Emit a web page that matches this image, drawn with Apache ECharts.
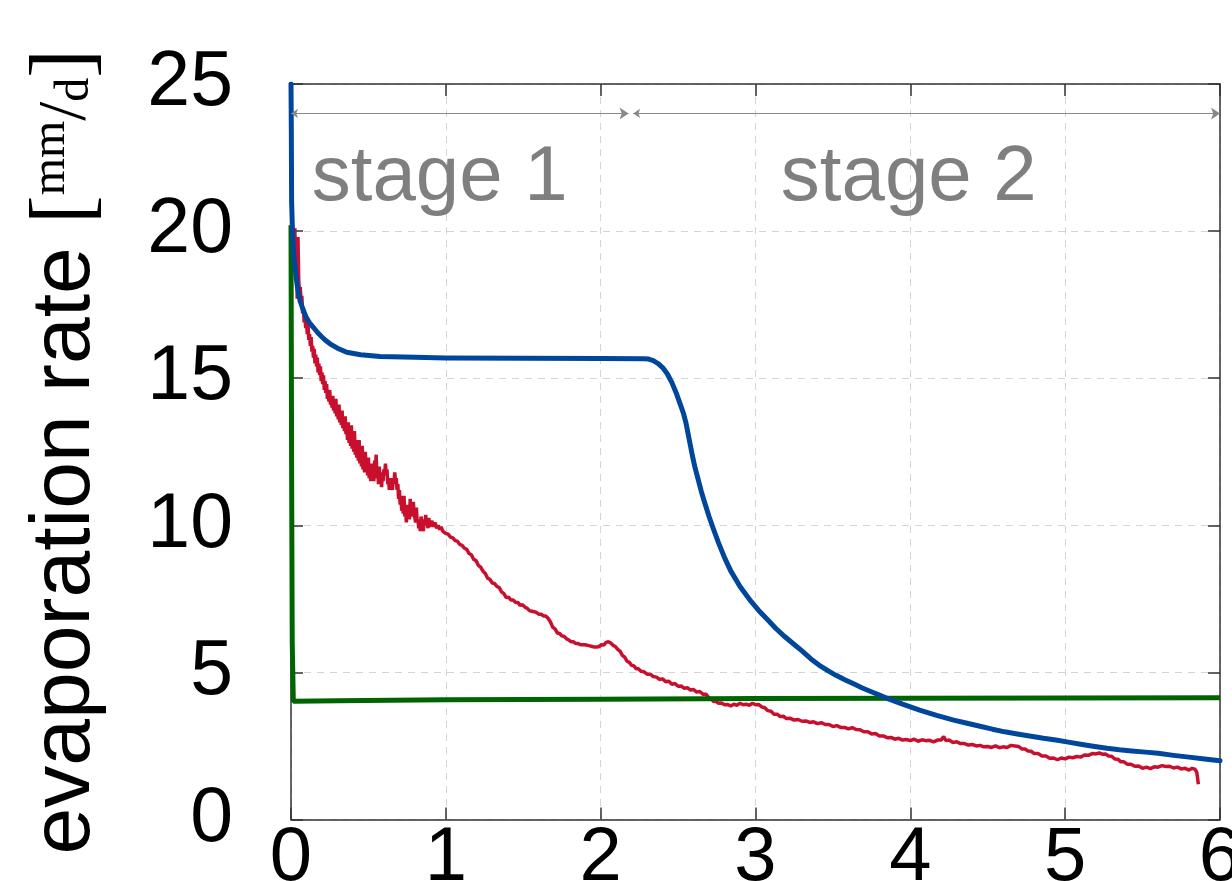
<!DOCTYPE html>
<html>
<head>
<meta charset="utf-8">
<script src="https://cdn.jsdelivr.net/npm/echarts@6/dist/echarts.min.js"></script>
<style>html,body{margin:0;padding:0;background:#fff;}#c{width:1232px;height:881px;}</style>
</head>
<body>
<div id="c"></div>
<script>
// ---- data ----
var xTicks = [0, 1, 2, 3, 4, 5, 6];
var yTicks = [0, 5, 10, 15, 20, 25];

var blueModel = [[0,25],[0.002,23.5],[0.004,21.0],[0.01,19.9],[0.018,19.2],[0.026,18.77],[0.04,18.15],[0.058,17.64],[0.08,17.3],[0.1,17.05],[0.12,16.88],[0.144,16.73],[0.17,16.56],[0.2,16.4],[0.225,16.28],[0.252,16.17],[0.3,16.02],[0.36,15.88],[0.45,15.8],[0.575,15.74],[0.8,15.71],[1.0,15.69],[1.5,15.68],[2.0,15.67],[2.28,15.66],[2.31,15.65],[2.34,15.6],[2.37,15.5],[2.40,15.36],[2.43,15.15],[2.46,14.85],[2.49,14.47],[2.515,14.1],[2.535,13.8],[2.55,13.5],[2.565,13.1],[2.58,12.7],[2.595,12.3],[2.61,11.95],[2.63,11.55],[2.65,11.15],[2.67,10.8],[2.70,10.3],[2.73,9.85],[2.76,9.42],[2.80,8.9],[2.84,8.45],[2.9,7.92],[2.97,7.42],[3.03,7.05],[3.08,6.78],[3.13,6.5],[3.19,6.21],[3.25,5.95],[3.3,5.73],[3.36,5.45],[3.41,5.25],[3.47,5.05],[3.52,4.9],[3.58,4.74],[3.63,4.62],[3.69,4.47],[3.74,4.36],[3.8,4.23],[3.85,4.12],[3.95,3.92],[4.06,3.72],[4.17,3.54],[4.28,3.38],[4.36,3.28],[4.45,3.17],[4.53,3.07],[4.61,2.98],[4.7,2.9],[4.78,2.83],[4.86,2.76],[4.94,2.70],[5.02,2.63],[5.1,2.56],[5.18,2.49],[5.27,2.42],[5.35,2.37],[5.43,2.33],[5.52,2.29],[5.6,2.25],[5.7,2.18],[5.8,2.12],[5.9,2.06],[6.0,2.0]];

var greenModel = [[0,20.2],[0.004,12.0],[0.008,6.0],[0.015,4.02],[0.3,4.04],[1,4.07],[2,4.09],[3,4.11],[4,4.12],[5,4.13],[6,4.14]];

var redMeasured = [[0.02,19.2],[0.025,20.1],[0.03,18.4],[0.035,19.6],[0.04,17.7],[0.045,19.8],[0.05,18.3],[0.055,17.9],[0.06,18.1],[0.065,17.6],[0.07,17.8],[0.075,17.2],[0.08,17.4],[0.085,16.9],[0.09,17.2],[0.095,16.7],[0.10,17.0],[0.105,16.5],[0.11,16.8],[0.115,16.3],[0.12,16.5],[0.125,16.1],[0.13,16.4],[0.135,15.9],[0.14,16.1],[0.145,15.7],[0.15,16.0],[0.155,15.5],[0.16,15.8],[0.165,15.4],[0.17,15.7],[0.175,15.2],[0.18,15.5],[0.185,15.1],[0.19,15.4],[0.195,14.9],[0.20,15.2],[0.205,14.8],[0.21,15.1],[0.215,14.6],[0.22,14.9],[0.225,14.5],[0.23,14.8],[0.235,14.3],[0.24,14.6],[0.245,14.2],[0.25,14.6],[0.255,14.1],[0.26,14.4],[0.265,14.0],[0.27,14.4],[0.275,13.9],[0.28,14.2],[0.285,13.8],[0.29,14.3],[0.295,13.7],[0.30,14.0],[0.305,13.6],[0.31,14.1],[0.315,13.5],[0.32,13.9],[0.325,13.4],[0.33,13.9],[0.335,13.3],[0.34,13.6],[0.345,13.2],[0.35,13.7],[0.355,13.1],[0.36,13.4],[0.365,12.9],[0.37,13.5],[0.375,12.8],[0.38,13.2],[0.385,12.7],[0.39,13.4],[0.395,12.6],[0.40,13.0],[0.405,12.5],[0.41,13.2],[0.415,12.4],[0.42,12.9],[0.425,12.3],[0.43,12.7],[0.435,12.2],[0.44,12.9],[0.445,12.1],[0.45,12.5],[0.455,12.0],[0.46,12.7],[0.465,11.9],[0.47,12.4],[0.475,11.8],[0.48,12.5],[0.485,11.8],[0.49,12.1],[0.495,11.7],[0.50,12.3],[0.505,11.6],[0.51,12.0],[0.515,11.5],[0.52,12.1],[0.525,11.6],[0.53,11.9],[0.535,11.5],[0.54,12.2],[0.545,11.8],[0.55,12.4],[0.555,11.6],[0.56,11.9],[0.565,11.4],[0.57,12.0],[0.575,11.4],[0.58,11.7],[0.585,11.3],[0.59,11.8],[0.595,11.5],[0.60,11.9],[0.605,11.7],[0.61,12.1],[0.615,11.7],[0.62,11.9],[0.625,11.4],[0.63,11.6],[0.635,11.2],[0.64,11.6],[0.645,11.3],[0.65,11.5],[0.655,11.2],[0.66,11.6],[0.665,11.4],[0.67,11.8],[0.675,11.5],[0.68,11.6],[0.685,11.2],[0.69,11.4],[0.695,10.9],[0.70,11.2],[0.705,10.7],[0.71,11.0],[0.715,10.5],[0.72,10.8],[0.725,10.4],[0.73,11.0],[0.735,10.3],[0.74,10.5],[0.745,10.1],[0.75,10.7],[0.755,10.3],[0.76,10.5],[0.765,10.2],[0.77,10.9],[0.775,10.4],[0.78,10.6],[0.785,10.3],[0.79,10.8],[0.795,10.4],[0.80,10.4],[0.805,10.1],[0.81,10.6],[0.815,10.1],[0.82,10.2],[0.825,9.9],[0.83,10.1],[0.835,9.8],[0.84,10.3],[0.845,9.9],[0.85,10.0],[0.855,9.8],[0.86,10.2],[0.865,10.0],[0.87,10.35],[0.875,10.0],[0.88,10.1],[0.885,9.9],[0.89,10.25],[0.895,9.95],[0.90,10.05],[0.91,10.15],[0.92,9.95],[0.93,10.1],[0.94,9.9],[0.95,10.0],[0.96,9.85],[0.97,9.95],[0.98,9.8],[0.99,9.85],[1.00,9.72],[1.015,9.7],[1.03,9.6],[1.045,9.57],[1.06,9.48],[1.075,9.46],[1.09,9.35],[1.105,9.32],[1.12,9.22],[1.135,9.18],[1.15,9.04],[1.165,9.0],[1.18,8.84],[1.195,8.8],[1.21,8.64],[1.225,8.58],[1.24,8.44],[1.255,8.36],[1.27,8.2],[1.285,8.16],[1.30,8.04],[1.315,8.02],[1.33,7.92],[1.345,7.88],[1.36,7.74],[1.375,7.68],[1.39,7.54],[1.405,7.56],[1.42,7.46],[1.435,7.46],[1.45,7.38],[1.465,7.38],[1.48,7.28],[1.495,7.3],[1.51,7.22],[1.525,7.18],[1.54,7.1],[1.555,7.08],[1.57,7.06],[1.585,7.04],[1.60,6.98],[1.615,6.98],[1.63,6.92],[1.645,6.92],[1.66,6.84],[1.675,6.72],[1.69,6.54],[1.705,6.48],[1.72,6.34],[1.735,6.32],[1.75,6.24],[1.765,6.22],[1.78,6.14],[1.795,6.1],[1.81,6.04],[1.825,6.04],[1.84,5.98],[1.855,5.98],[1.87,5.94],[1.885,5.94],[1.90,5.94],[1.915,5.92],[1.93,5.9],[1.945,5.88],[1.96,5.86],[1.975,5.86],[1.99,5.88],[2.005,5.94],[2.02,5.93],[2.035,6.02],[2.05,6.04],[2.065,6.0],[2.08,5.92],[2.095,5.88],[2.11,5.78],[2.125,5.72],[2.14,5.58],[2.155,5.52],[2.17,5.38],[2.185,5.34],[2.20,5.24],[2.215,5.22],[2.23,5.12],[2.245,5.12],[2.26,5.04],[2.28,5.02],[2.30,4.94],[2.32,4.94],[2.34,4.86],[2.36,4.84],[2.38,4.76],[2.40,4.78],[2.42,4.68],[2.44,4.7],[2.46,4.6],[2.48,4.62],[2.50,4.53],[2.52,4.54],[2.54,4.46],[2.56,4.48],[2.58,4.4],[2.60,4.42],[2.62,4.33],[2.64,4.35],[2.66,4.26],[2.68,4.26],[2.70,4.13],[2.715,4.1],[2.73,4.01],[2.745,4.02],[2.76,3.95],[2.78,3.96],[2.80,3.9],[2.82,3.91],[2.84,3.86],[2.86,3.92],[2.88,3.88],[2.90,3.95],[2.92,3.9],[2.94,3.92],[2.96,3.88],[2.98,3.95],[3.00,3.9],[3.02,3.91],[3.04,3.83],[3.06,3.8],[3.08,3.7],[3.10,3.68],[3.12,3.58],[3.14,3.58],[3.16,3.5],[3.18,3.51],[3.20,3.43],[3.225,3.44],[3.25,3.38],[3.275,3.4],[3.30,3.34],[3.325,3.35],[3.35,3.3],[3.375,3.32],[3.40,3.26],[3.425,3.29],[3.45,3.23],[3.475,3.23],[3.50,3.16],[3.525,3.19],[3.55,3.13],[3.575,3.13],[3.60,3.08],[3.625,3.12],[3.65,3.06],[3.675,3.05],[3.70,2.98],[3.725,2.98],[3.75,2.91],[3.775,2.92],[3.80,2.84],[3.825,2.84],[3.85,2.78],[3.875,2.79],[3.90,2.73],[3.925,2.76],[3.95,2.7],[3.975,2.72],[4.00,2.68],[4.025,2.73],[4.05,2.66],[4.075,2.71],[4.10,2.68],[4.125,2.69],[4.15,2.64],[4.175,2.7],[4.20,2.7],[4.215,2.82],[4.23,2.68],[4.25,2.7],[4.275,2.62],[4.30,2.64],[4.325,2.58],[4.35,2.58],[4.375,2.53],[4.40,2.55],[4.425,2.5],[4.45,2.52],[4.475,2.47],[4.50,2.48],[4.525,2.45],[4.55,2.5],[4.575,2.44],[4.60,2.47],[4.625,2.45],[4.65,2.52],[4.675,2.5],[4.70,2.48],[4.72,2.4],[4.74,2.4],[4.76,2.33],[4.78,2.32],[4.80,2.24],[4.825,2.24],[4.85,2.16],[4.875,2.16],[4.90,2.08],[4.925,2.09],[4.95,2.03],[4.975,2.09],[5.00,2.06],[5.025,2.12],[5.05,2.1],[5.075,2.14],[5.10,2.12],[5.125,2.19],[5.15,2.18],[5.175,2.24],[5.20,2.23],[5.22,2.26],[5.24,2.22],[5.26,2.23],[5.28,2.16],[5.30,2.15],[5.32,2.06],[5.34,2.05],[5.36,1.96],[5.38,1.96],[5.40,1.88],[5.425,1.88],[5.45,1.81],[5.475,1.82],[5.50,1.74],[5.525,1.78],[5.55,1.73],[5.575,1.79],[5.60,1.78],[5.625,1.83],[5.65,1.8],[5.675,1.81],[5.70,1.75],[5.725,1.78],[5.75,1.72],[5.775,1.74],[5.80,1.68],[5.82,1.74],[5.84,1.7],[5.85,1.6],[5.855,1.42],[5.86,1.2]];

var stageLabels = [[0.96, 21.8, 'stage 1'], [3.99, 21.8, 'stage 2']];
var stageSpans = [[[0.0, 24], [2.18, 24]], [[2.21, 24], [6.0, 24]]];

// ---- chart ----
var chart = echarts.init(document.getElementById('c'), null, {renderer: 'canvas'});
var FONT = 'Liberation Sans';
var axisLineStyle = {color: '#333', width: 1.5};
var tickStyle = {color: '#333', width: 1.5};
var gridStyle = {color: '#d4d4d4', width: 1, type: [7, 6]};

var option = {
  animation: false,
  backgroundColor: '#fff',
  grid: {left: 291, right: 12, top: 84, bottom: 61.5, containLabel: false, outerBoundsMode: 'none'},
  xAxis: [{
    type: 'value', min: 0, max: 6, interval: 1, position: 'bottom',
    axisLine: {show: true, onZero: false, lineStyle: axisLineStyle},
    axisTick: {show: true, inside: true, length: 12, lineStyle: tickStyle},
    axisLabel: {fontSize: 76, fontFamily: FONT, color: '#000', margin: 2},
    splitLine: {show: true, lineStyle: gridStyle}
  }, {
    type: 'value', min: 0, max: 6, interval: 1, position: 'top',
    axisLine: {show: true, onZero: false, lineStyle: axisLineStyle},
    axisTick: {show: true, inside: true, length: 12, lineStyle: tickStyle},
    axisLabel: {show: false}, splitLine: {show: false}
  }],
  yAxis: [{
    type: 'value', min: 0, max: 25, interval: 5, position: 'left',
    axisLine: {show: true, onZero: false, lineStyle: axisLineStyle},
    axisTick: {show: true, inside: true, length: 12, lineStyle: tickStyle},
    axisLabel: {fontSize: 77, fontFamily: FONT, color: '#000', margin: 58},
    splitLine: {show: true, lineStyle: gridStyle},
    name: '{a|evaporation rate }{b|[}{c|mm}{s|/}{d|d}{b|]}',
    nameLocation: 'middle', nameRotate: 90, nameGap: 178,
    nameTextStyle: {
      rich: {
        a: {fontSize: 84, fontFamily: FONT, color: '#000', lineHeight: 94},
        b: {fontSize: 86, fontFamily: 'Liberation Serif', color: '#000', lineHeight: 94},
        c: {fontSize: 48, fontFamily: 'Liberation Serif', color: '#000', padding: [0, 0, 30, 0]},
        s: {fontSize: 68, fontFamily: 'Liberation Serif', color: '#000'},
        d: {fontSize: 48, fontFamily: 'Liberation Serif', color: '#000', padding: [18, 0, 0, 0]}
      }
    }
  }, {
    type: 'value', min: 0, max: 25, interval: 5, position: 'right',
    axisLine: {show: true, onZero: false, lineStyle: axisLineStyle},
    axisTick: {show: true, inside: true, length: 12, lineStyle: tickStyle},
    axisLabel: {show: false}, splitLine: {show: false}
  }],
  series: [{
    type: 'line', name: 'measured', data: redMeasured, showSymbol: false, symbol: 'none',
    lineStyle: {color: '#c8102e', width: 3.5}, z: 3
  }, {
    type: 'line', name: 'green', data: greenModel, showSymbol: false, symbol: 'none',
    lineStyle: {color: '#006400', width: 5}, z: 4
  }, {
    type: 'line', name: 'blue', data: blueModel, showSymbol: false, symbol: 'none',
    lineStyle: {color: '#00479b', width: 5, join: 'round', cap: 'round'}, z: 5
  }, {
    type: 'lines', coordinateSystem: 'cartesian2d', z: 6,
    data: stageSpans.map(function (c) { return {coords: c}; }),
    symbol: ['arrow', 'arrow'], symbolSize: [7, 9],
    lineStyle: {color: '#888', width: 1.2, opacity: 1}
  }, {
    type: 'scatter', symbolSize: 0, z: 7,
    itemStyle: {opacity: 1},
    data: stageLabels,
    label: {show: true, position: 'inside', formatter: function (p) { return p.data[2]; },
      fontSize: 78, fontFamily: FONT, color: '#7f7f7f', opacity: 1}
  }]
};
chart.setOption(option);
</script>
</body>
</html>
